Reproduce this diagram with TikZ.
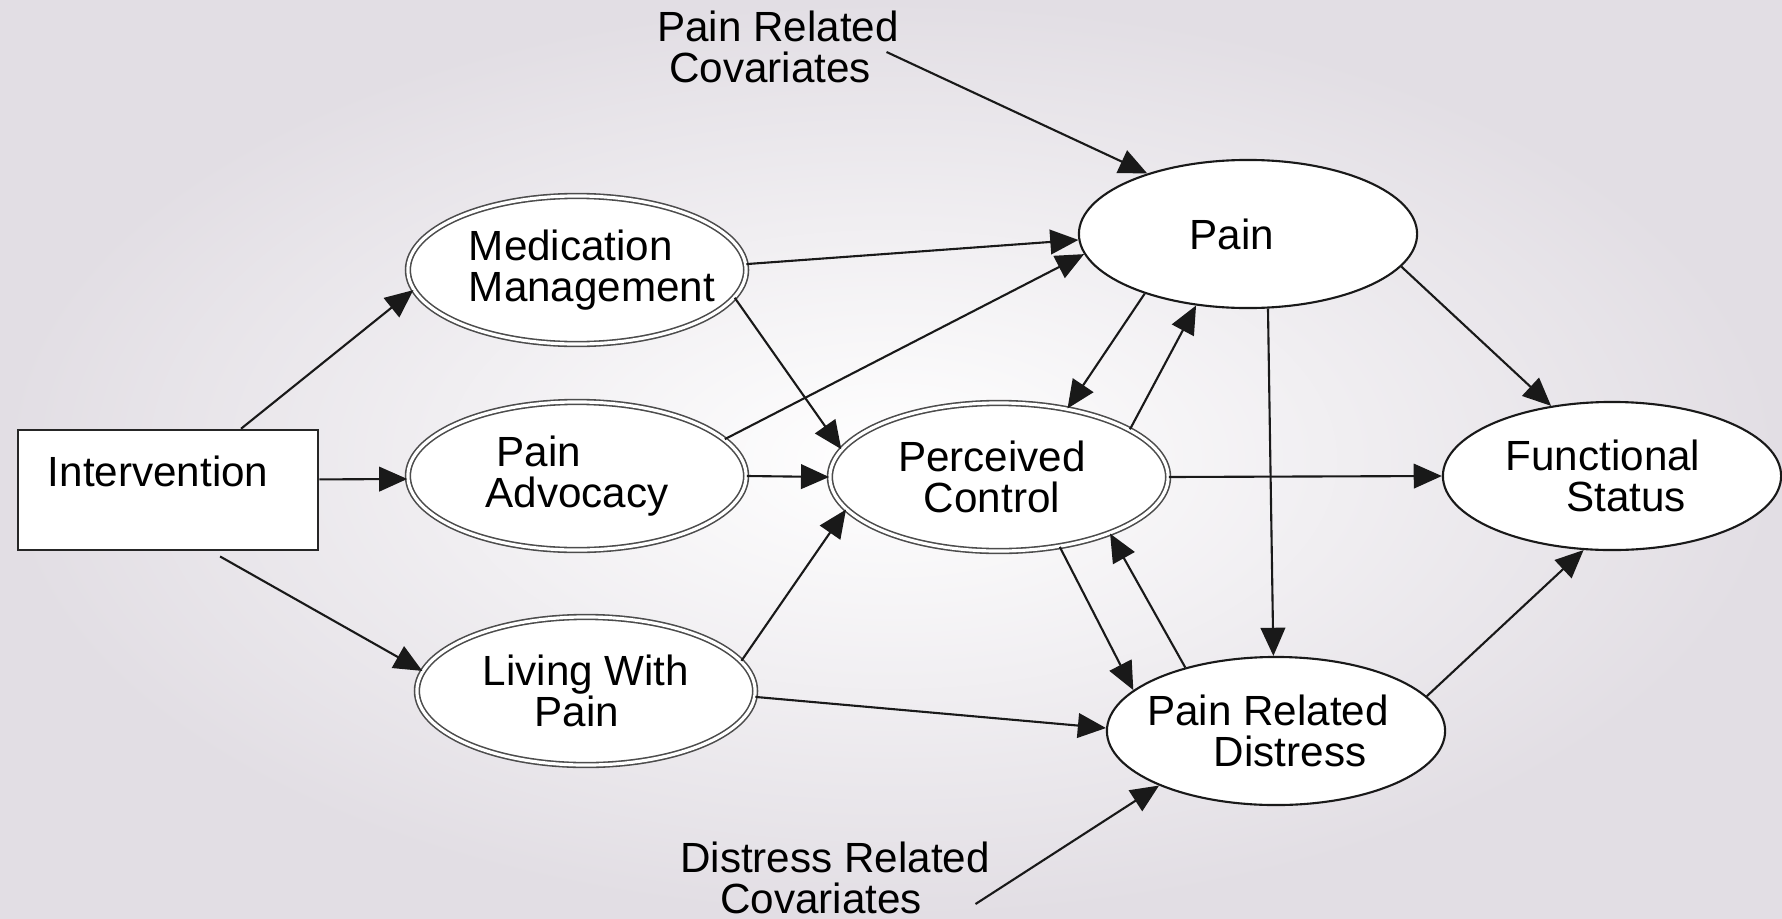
\documentclass[tikz,border=0pt]{standalone}
\usepackage{fontspec}
\setmainfont{Liberation Sans}
\usetikzlibrary{shapes.geometric, arrows.meta, positioning}

\definecolor{bg_gray}{RGB}{226,222,228}

\begin{document}
\begin{tikzpicture}[
    x=0.01cm, y=-0.01cm,
    font=\fontsize{12}{11.7}\selectfont,
    % Estilos
    box/.style={
        draw=black!85, rectangle, fill=white, align=left,
        text width=2.4cm, inner xsep=0.3cm,
        minimum height=1.2cm, line width=0.7pt
    },
    oval_box/.style={
        draw=black!90, ellipse, fill=white, align=center,
        inner sep=0pt, minimum width=3.38cm, minimum height=1.48cm,
        line width=0.6pt
    },
    double_box/.style={
        oval_box, draw=black!70, double, double distance=0.9pt,
        line width=0.45pt
    },
    cov_text/.style={align=center, inner sep=2pt},
    arrow_line/.style={-{Triangle[length=8pt, width=7pt]}, line width=0.6pt, color=black!90}
]

    % Fundo e limites
    \useasboundingbox (0,0) rectangle (1782,918);
    \shade[inner color=white, outer color=bg_gray] (0,0) rectangle (1782,918);

    % --- NÓS ---
    \node[box] (int) at (168,490) {Intervention\\[-0.16cm]\strut};

    % Mediadores (duplos)
    \node[double_box, align=left, inner xsep=-0.2cm] (med) at (577,270) {\hspace*{0.3cm}Medication\\\hspace*{0.3cm}Management};
    \node[double_box, align=left] (adv) at (577,476) {\hspace*{0.11cm}Pain\\Advocacy};
    \node[double_box] (liv) at (586,691) {Living With\\Pain\hspace*{0.18cm}};
    \node[double_box] (pc) at (999,477) {Perceived\hspace*{0.14cm}\\Control\hspace*{0.14cm}};

    % Desfechos
    \node[oval_box] (pain) at (1248,234) {Pain\hspace*{0.32cm}};
    \node[oval_box, inner xsep=-0.1cm] (dis) at (1276,731) {Pain Related\hspace*{0.16cm}\\\hspace*{0.28cm}Distress};
    \node[oval_box] (fs) at (1612,476) {Functional\hspace*{0.18cm}\\\hspace*{0.28cm}Status};

    % Covariáveis
    \node[cov_text] (prc) at (778,47) {Pain Related\\Covariates\hspace*{0.16cm}};
    \node[cov_text] (drc) at (835,878) {Distress Related\\Covariates\hspace*{0.28cm}};

    % Pontos de saída das setas das covariáveis
    \coordinate (prc_out) at ([xshift=-0.2cm, yshift=-0.05cm]prc.east);
    \coordinate (drc_out) at ([xshift=-0.22cm, yshift=-0.26cm]drc.east);

    % --- CONEXÕES ---

    % Intervenção -> mediadores
    \draw[arrow_line] (int.40) -- (med.187);
    \draw[arrow_line] (int.4) -- (adv.181);
    \draw[arrow_line, shorten <=3pt] (int.-55) -- (liv.173);

    % Mediadores -> controle / desfechos
    \draw[arrow_line] (med.2) -- (pain.182);
    \draw[arrow_line] (med.-10) -- (pc.170);
    \draw[arrow_line] (adv.14) -- (pain.187);
    \draw[arrow_line] (adv.east) -- (pc.west);
    \draw[arrow_line] (liv.11) -- (pc.192);
    \draw[arrow_line] (liv.-2) -- (dis.179);

    % Controle percebido <-> dor / sofrimento
    \draw[arrow_line] (pain.210) -- (pc.45);
    \draw[arrow_line] (pc.20) -- (pain.234);
    \draw[arrow_line] (pc.-49) -- (dis.164);
    \draw[arrow_line] (dis.145) -- (pc.-27);

    % Desfechos -> estado funcional
    \draw[arrow_line] (pain.-12) -- (fs.131);
    \draw[arrow_line] (pc.east) -- (fs.west);
    \draw[arrow_line] (pain.-75) -- (dis.92);
    \draw[arrow_line] (dis.13) -- (fs.249);

    % Covariáveis
    \draw[arrow_line] (prc_out) -- (pain.149);
    \draw[arrow_line] (drc_out) -- (dis.205);

\end{tikzpicture}
\end{document}
